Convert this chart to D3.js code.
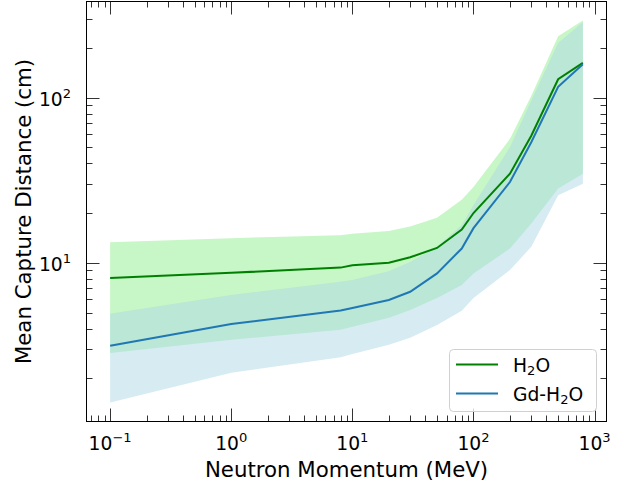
<!DOCTYPE html>
<html lang="en">
<head>
<meta charset="utf-8">
<title>Mean Capture Distance</title>
<script src="https://cdnjs.cloudflare.com/ajax/libs/d3/7.8.5/d3.min.js"></script>
<style>
  body { margin: 0; background: #fff; }
  svg text { font-family: "DejaVu Sans", sans-serif; fill: #000; }
</style>
</head>
<body>
<div id="viz"></div>
<script>
// neutron momentum (MeV)
const momentum = [0.1, 1, 8, 10, 20, 30, 50, 80, 100, 200, 300, 500, 800];

// H2O: mean and band (cm)
const h2oMean = [8.1, 8.7, 9.35, 9.65, 10.0, 10.8, 12.3, 15.9, 20.0, 34.6, 58.7, 129, 162];
const h2oLow  = [2.85, 3.42, 3.94, 4.11, 4.65, 5.19, 6.12, 7.35, 8.63, 12.2, 17.3, 28.2, 34.6];
const h2oHigh = [13.3, 14.1, 14.7, 15.0, 15.6, 16.6, 18.7, 24.1, 28.7, 56.2, 102, 235, 292];

// Gd-H2O: mean and band (cm)
const gdMean = [3.15, 4.26, 5.15, 5.33, 5.96, 6.68, 8.63, 12.2, 16.2, 30.8, 53.6, 116, 159];
const gdLow  = [1.43, 2.16, 2.68, 2.81, 3.19, 3.52, 4.21, 5.12, 6.12, 9.03, 12.5, 25.6, 30.1];
const gdHigh = [4.91, 6.38, 7.69, 7.87, 8.9, 10.1, 12.5, 16.9, 22.3, 50, 95.5, 214, 285];

const xTickExp = [-1, 0, 1, 2, 3];
const yTickExp = [1, 2];

const width = 629, height = 482;
const plotLeft = 86.5, plotRight = 606.5, plotTop = 1.5, plotBottom = 421.5;
const majorLen = 13, minorLen = 6;
const tickFont = 18.7, labelFont = 21.3;

// log-space limits with 5% margins
function logLimits(lo, hi) {
  const a = Math.log10(lo), b = Math.log10(hi), m = (b - a) * 0.05;
  return [Math.pow(10, a - m), Math.pow(10, b + m)];
}
const allY = h2oLow.concat(h2oHigh, gdLow, gdHigh);

const x = d3.scaleLog()
  .domain(logLimits(d3.min(momentum), d3.max(momentum)))
  .range([plotLeft, plotRight]);
const y = d3.scaleLog()
  .domain(logLimits(d3.min(allY), d3.max(allY)))
  .range([plotBottom, plotTop]);

const svg = d3.select("#viz").append("svg")
  .attr("width", width)
  .attr("height", height);

const plot = svg.append("g");

function band(lo, hi) {
  return d3.area()
    .x((d, i) => x(momentum[i]))
    .y0((d, i) => y(lo[i]))
    .y1((d, i) => y(hi[i]))(momentum);
}
function curve(vals) {
  return d3.line()
    .x((d, i) => x(momentum[i]))
    .y((d, i) => y(vals[i]))(momentum);
}

// bands
plot.append("path").attr("d", band(h2oLow, h2oHigh))
  .attr("fill", "#90ee90").attr("fill-opacity", 0.5);
plot.append("path").attr("d", band(gdLow, gdHigh))
  .attr("fill", "#add8e6").attr("fill-opacity", 0.5);

// mean lines
plot.append("path").attr("d", curve(h2oMean))
  .attr("fill", "none").attr("stroke", "#008000").attr("stroke-width", 2);
plot.append("path").attr("d", curve(gdMean))
  .attr("fill", "none").attr("stroke", "#1f77b4").attr("stroke-width", 2);

// ticks, inward on all four sides
const ticks = svg.append("g").attr("stroke", "#333").attr("stroke-width", 1);
const [x0, x1] = x.domain(), [y0, y1] = y.domain();

function logTicks(lo, hi) {
  const out = [];
  for (let e = Math.floor(Math.log10(lo)); e <= Math.ceil(Math.log10(hi)); e++) {
    for (let k = 1; k <= 9; k++) {
      const v = k * Math.pow(10, e);
      if (v >= lo && v <= hi) out.push({ v: v, major: k === 1 });
    }
  }
  return out;
}

logTicks(x0, x1).forEach(t => {
  const px = Math.round(x(t.v)) + 0.5, len = t.major ? majorLen : minorLen;
  ticks.append("line").attr("x1", px).attr("x2", px).attr("y1", plotBottom).attr("y2", plotBottom - len);
  ticks.append("line").attr("x1", px).attr("x2", px).attr("y1", plotTop).attr("y2", plotTop + len);
});
logTicks(y0, y1).forEach(t => {
  const py = Math.round(y(t.v)) + 0.5, len = t.major ? majorLen : minorLen;
  ticks.append("line").attr("y1", py).attr("y2", py).attr("x1", plotLeft).attr("x2", plotLeft + len);
  ticks.append("line").attr("y1", py).attr("y2", py).attr("x1", plotRight).attr("x2", plotRight - len);
});

// frame
svg.append("rect")
  .attr("x", plotLeft).attr("y", plotTop)
  .attr("width", plotRight - plotLeft).attr("height", plotBottom - plotTop)
  .attr("fill", "none").attr("stroke", "#000").attr("stroke-width", 1);

// tick labels
function powerLabel(sel, e) {
  sel.append("tspan").text("10");
  sel.append("tspan")
    .attr("dy", -tickFont * 0.42)
    .attr("font-size", tickFont * 0.7)
    .text(e < 0 ? "\u2212" + (-e) : String(e));
}
xTickExp.forEach(e => {
  const t = svg.append("text")
    .attr("x", x(Math.pow(10, e)))
    .attr("y", 450)
    .attr("text-anchor", "middle")
    .attr("font-size", tickFont);
  powerLabel(t, e);
});
yTickExp.forEach(e => {
  const t = svg.append("text")
    .attr("x", 71)
    .attr("y", y(Math.pow(10, e)) + 8)
    .attr("text-anchor", "end")
    .attr("font-size", tickFont);
  powerLabel(t, e);
});

// axis labels
svg.append("text")
  .attr("x", (plotLeft + plotRight) / 2)
  .attr("y", 477)
  .attr("text-anchor", "middle")
  .attr("font-size", labelFont)
  .text("Neutron Momentum (MeV)");
svg.append("text")
  .attr("transform", `translate(31,${(plotTop + plotBottom) / 2}) rotate(-90)`)
  .attr("text-anchor", "middle")
  .attr("font-size", labelFont)
  .text("Mean Capture Distance (cm)");

// legend
const legendItems = [
  { color: "#008000", parts: ["H", "2", "O"] },
  { color: "#1f77b4", parts: ["Gd-H", "2", "O"] }
];
const legend = svg.append("g");
legend.append("rect")
  .attr("x", 449.5).attr("y", 349.5)
  .attr("width", 147).attr("height", 62)
  .attr("rx", 4)
  .attr("fill", "#fff").attr("fill-opacity", 0.8)
  .attr("stroke", "#d0d0d0").attr("stroke-width", 1);
legendItems.forEach((d, i) => {
  const ly = 364.5 + i * 29;
  legend.append("line")
    .attr("x1", 456).attr("x2", 498)
    .attr("y1", ly).attr("y2", ly)
    .attr("stroke", d.color).attr("stroke-width", 2);
  const t = legend.append("text")
    .attr("x", 513)
    .attr("y", ly + 7)
    .attr("font-size", tickFont);
  t.append("tspan").text(d.parts[0]);
  t.append("tspan").attr("dy", tickFont * 0.2).attr("font-size", tickFont * 0.7).text(d.parts[1]);
  t.append("tspan").attr("dy", -tickFont * 0.2).text(d.parts[2]);
});
</script>
</body>
</html>
